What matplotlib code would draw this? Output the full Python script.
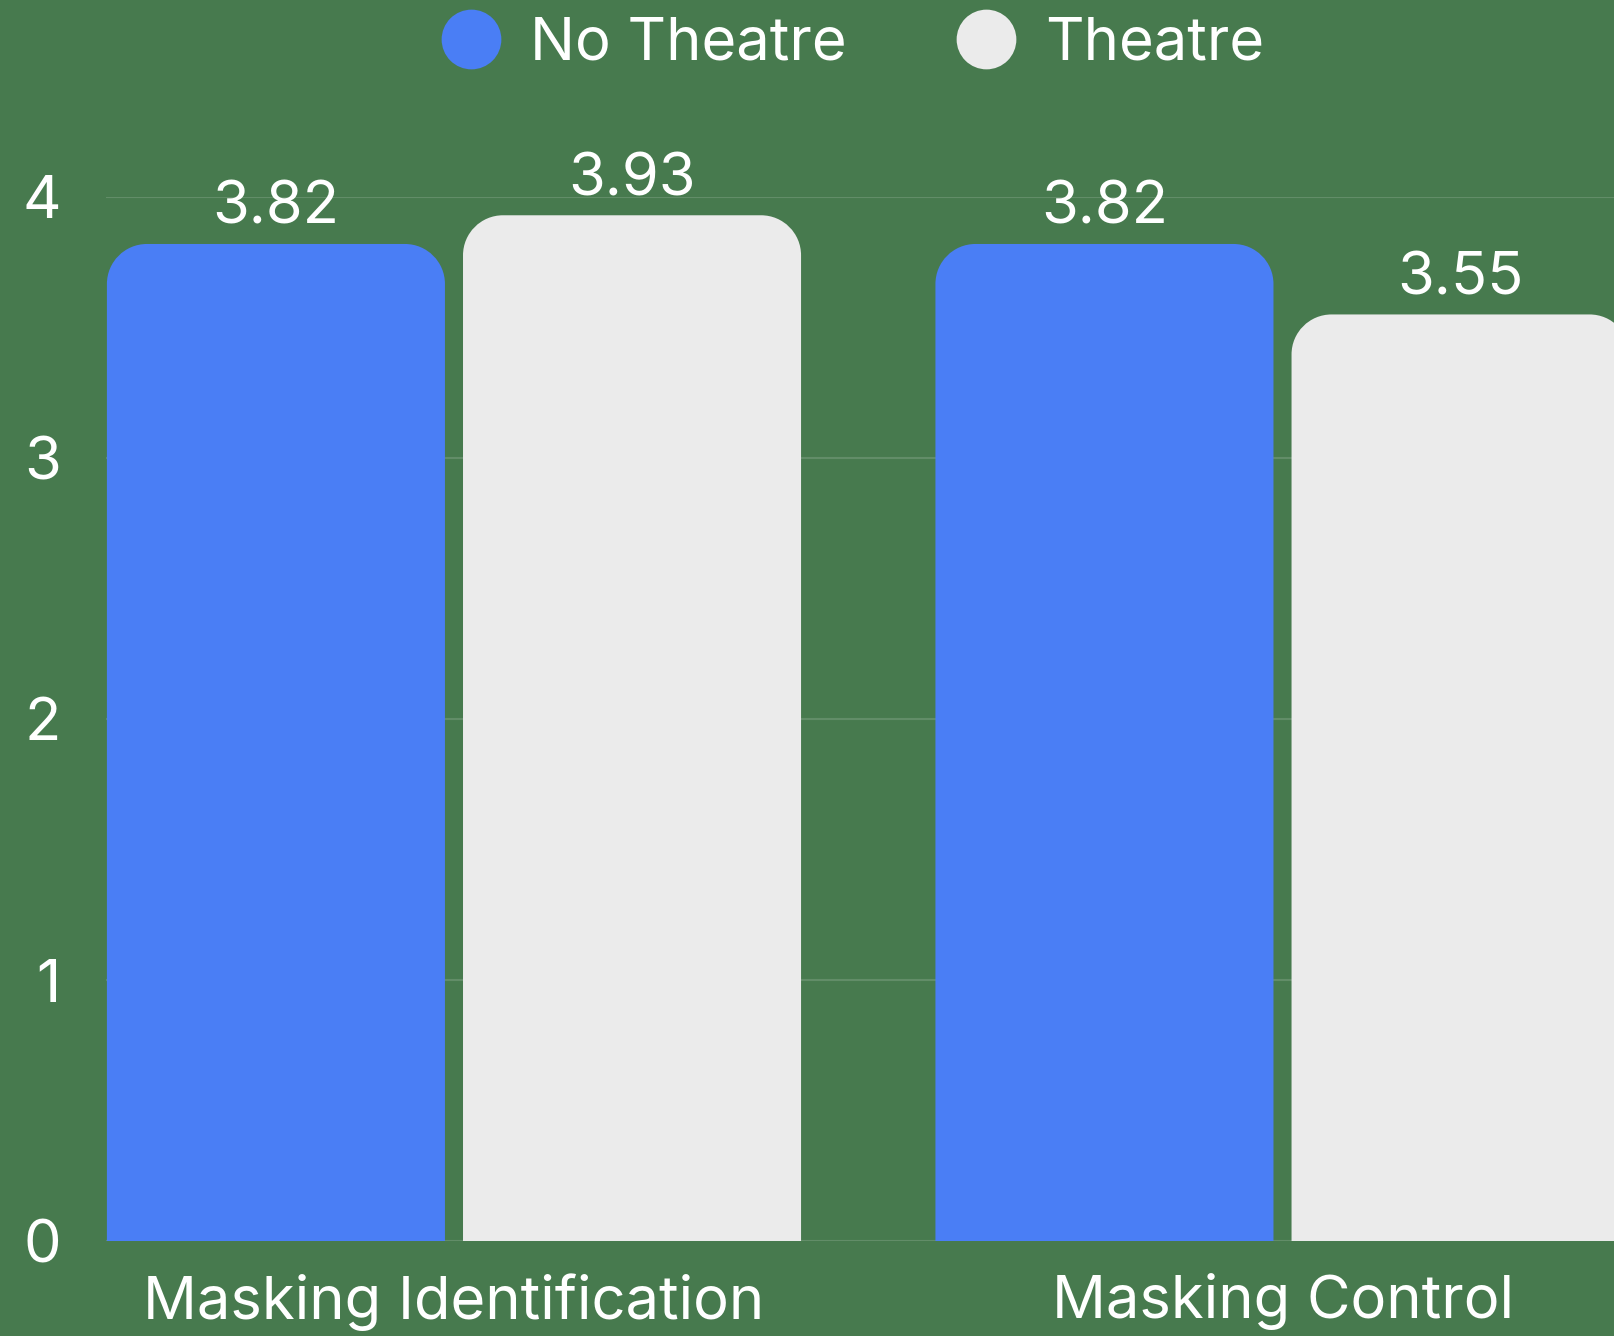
import matplotlib
matplotlib.use("Agg")
import matplotlib.pyplot as plt
from matplotlib.path import Path
from matplotlib.patches import PathPatch
from matplotlib.lines import Line2D
import numpy as np

categories = ["Masking Identification", "Masking Control"]
series_names = ["No Theatre", "Theatre"]
no_theatre = [3.82, 3.82]
theatre = [3.93, 3.55]
y_ticks = [0, 1, 2, 3, 4]

BG = "#477a4e"
BLUE = "#4a7ef5"
WHITE = "#ebebeb"
FONT = "Inter"
FS = 43
W, H = 1614, 1336
DPI = 100

plt.rcParams["font.family"] = [FONT, "DejaVu Sans"]

fig = plt.figure(figsize=(W / DPI, H / DPI), dpi=DPI, facecolor=BG)
left_px, right_px, bottom_px, top_px = 106, 1614, 1241, 197
ax = fig.add_axes([left_px / W, 1 - bottom_px / H, (right_px - left_px) / W, (bottom_px - top_px) / H])
ax.set_facecolor("none")
ax.set_xlim(-0.42, 1.4001)
ax.set_ylim(0, 4)
for s in ax.spines.values():
    s.set_visible(False)

x = np.arange(len(categories))
width = 0.408
offset = 0.2149

ax.set_yticks(y_ticks)
ax.yaxis.grid(True, color="white", alpha=0.15, lw=1.5)
ax.set_axisbelow(True)
ax.tick_params(axis="y", length=0, pad=32.5, labelsize=FS, labelcolor="white")
ax.set_xticks(x)
ax.set_xticklabels(categories)
ax.tick_params(axis="x", length=0, pad=23, labelsize=FS, labelcolor="white")

fig.canvas.draw()
r_px = 40
px_per_x = ax.transData.transform((1, 0))[0] - ax.transData.transform((0, 0))[0]
px_per_y = ax.transData.transform((0, 1))[1] - ax.transData.transform((0, 0))[1]
rx = r_px / px_per_x
ry = r_px / px_per_y
k = 0.5523


def rounded_bar(xc, h, color):
    x0, x1 = xc - width / 2, xc + width / 2
    verts = [
        (x0, 0), (x0, h - ry),
        (x0, h - ry + k * ry), (x0 + rx - k * rx, h), (x0 + rx, h),
        (x1 - rx, h),
        (x1 - rx + k * rx, h), (x1, h - ry + k * ry), (x1, h - ry),
        (x1, 0), (x0, 0),
    ]
    codes = [Path.MOVETO, Path.LINETO,
             Path.CURVE4, Path.CURVE4, Path.CURVE4,
             Path.LINETO,
             Path.CURVE4, Path.CURVE4, Path.CURVE4,
             Path.LINETO, Path.CLOSEPOLY]
    p = PathPatch(Path(verts, codes), facecolor=color, edgecolor="none", zorder=3)
    ax.add_patch(p)


for xi, (a, b) in enumerate(zip(no_theatre, theatre)):
    for xc, h, c in ((xi - offset, a, BLUE), (xi + offset, b, WHITE)):
        rounded_bar(xc, h, c)
        ax.annotate(f"{h:.2f}", (xc, h), xytext=(0, 14.4), textcoords="offset points",
                    ha="center", va="baseline", fontsize=FS, color="white",
                    annotation_clip=False)

handles = [Line2D([], [], marker="o", ls="", ms=43, color=BLUE, markeredgewidth=0),
           Line2D([], [], marker="o", ls="", ms=43, color=WHITE, markeredgewidth=0)]
fig.legend(handles, series_names, loc="center", bbox_to_anchor=(853 / W, 1 - 44 / H),
           ncol=2, frameon=False, fontsize=FS, labelcolor="white",
           handlelength=1.0, handletextpad=0.49, columnspacing=1.83, borderpad=0)

fig.savefig("out.png", dpi=DPI, facecolor=BG)
